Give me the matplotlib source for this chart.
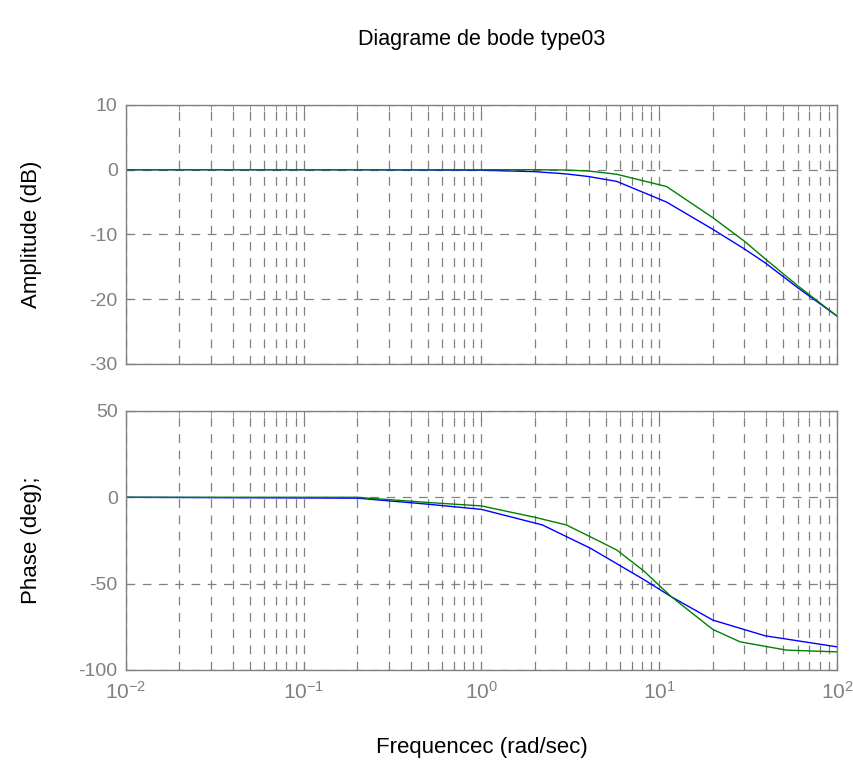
import matplotlib
matplotlib.use("Agg")
import matplotlib.pyplot as plt
from matplotlib.ticker import LogLocator, FixedLocator, NullFormatter

plt.rcParams['font.family'] = ['Liberation Sans', 'DejaVu Sans']
plt.rcParams['mathtext.fontset'] = 'custom'
plt.rcParams['mathtext.rm'] = 'Liberation Sans'
plt.rcParams['mathtext.it'] = 'Liberation Sans'
plt.rcParams['axes.unicode_minus'] = False

# amplitude (dB)
w_amp = [0.01, 0.2, 1, 2, 3, 4, 5.76, 11, 20, 30, 40, 60, 100]
amp_blue = [0, 0, -0.08, -0.3, -0.65, -1.05, -1.8, -5.0, -9.2, -12.2, -14.5, -18.2, -22.6]
amp_green = [0, 0, 0, 0, -0.05, -0.2, -0.7, -2.6, -7.4, -11.0, -13.9, -17.9, -22.6]

# phase (deg)
w_ph_blue = [0.01, 0.2, 0.5, 1, 2.2, 4.1, 8.15, 11.7, 20, 39.4, 100]
ph_blue = [0, -0.5, -4.0, -7.0, -16.0, -29.5, -47.5, -57.6, -71.1, -80.2, -86.6]
w_ph_green = [0.01, 0.2, 0.5, 1, 2, 3, 4.45, 5.76, 8.15, 11.7, 20, 28.5, 52, 100]
ph_green = [0, 0, -3.0, -5.0, -11.6, -16.0, -24.7, -30.5, -42.5, -57.6, -76.5, -83.7, -88.5, -89.5]

amp_ticks = [-30, -20, -10, 0, 10]
ph_ticks = [-100, -50, 0, 50]
x_ticks = [1e-2, 1e-1, 1e0, 1e1, 1e2]
x_labels = ['$10^{-2}$', '$10^{-1}$', '$10^{0}$', '$10^{1}$', '$10^{2}$']

gray = '#808080'
grid_kw = dict(color=gray, linestyle=(0, (7, 6)), linewidth=0.9)

fig = plt.figure(figsize=(8.54, 7.65), dpi=100)
ax1 = fig.add_axes([0.1475, 0.5242, 0.8326, 0.3386])
ax2 = fig.add_axes([0.1475, 0.1242, 0.8326, 0.3386])

ax1.plot(w_amp, amp_blue, color='#0000ff', linewidth=1.0)
ax1.plot(w_amp, amp_green, color='#008000', linewidth=1.0)
ax2.plot(w_ph_blue, ph_blue, color='#0000ff', linewidth=1.0)
ax2.plot(w_ph_green, ph_green, color='#008000', linewidth=1.0)

for ax, yt in [(ax1, amp_ticks), (ax2, ph_ticks)]:
    ax.set_xscale('log')
    ax.set_xlim(1e-2, 1e2)
    ax.set_ylim(yt[0], yt[-1])
    ax.yaxis.set_major_locator(FixedLocator(yt))
    ax.set_yticklabels([str(t) for t in yt])
    ax.xaxis.set_major_locator(FixedLocator(x_ticks))
    ax.xaxis.set_minor_locator(LogLocator(base=10, subs=range(2, 10)))
    ax.xaxis.set_minor_formatter(NullFormatter())
    ax.grid(True, which='major', **grid_kw)
    ax.grid(True, which='minor', axis='x', **grid_kw)
    ax.tick_params(which='both', direction='in', top=True, right=True,
                   colors=gray, labelcolor=gray, labelsize=14, pad=6)
    ax.tick_params(which='major', length=6)
    ax.tick_params(which='minor', length=4)
    for s in ax.spines.values():
        s.set_color(gray)
        s.set_linewidth(1.0)

ax1.set_xticklabels([])
ax2.set_xticklabels(x_labels)
ax2.tick_params(axis='x', labelsize=15, pad=8)

ax1.set_ylabel('Amplitude (dB)', fontsize=16)
ax2.set_ylabel('Phase (deg);', fontsize=16)
ax1.yaxis.set_label_coords(-0.118, 0.5)
ax2.yaxis.set_label_coords(-0.118, 0.5)
ax2.set_xlabel('Frequencec (rad/sec)', fontsize=16)
ax2.xaxis.set_label_coords(0.5, -0.258)

# title centred over the axes, as in the original
fig.text(0.1475 + 0.8326 / 2, 1 - 40 / 765, 'Diagrame de bode type03',
         ha='center', va='center', fontsize=15.5)

fig.savefig('out.png', dpi=100)
